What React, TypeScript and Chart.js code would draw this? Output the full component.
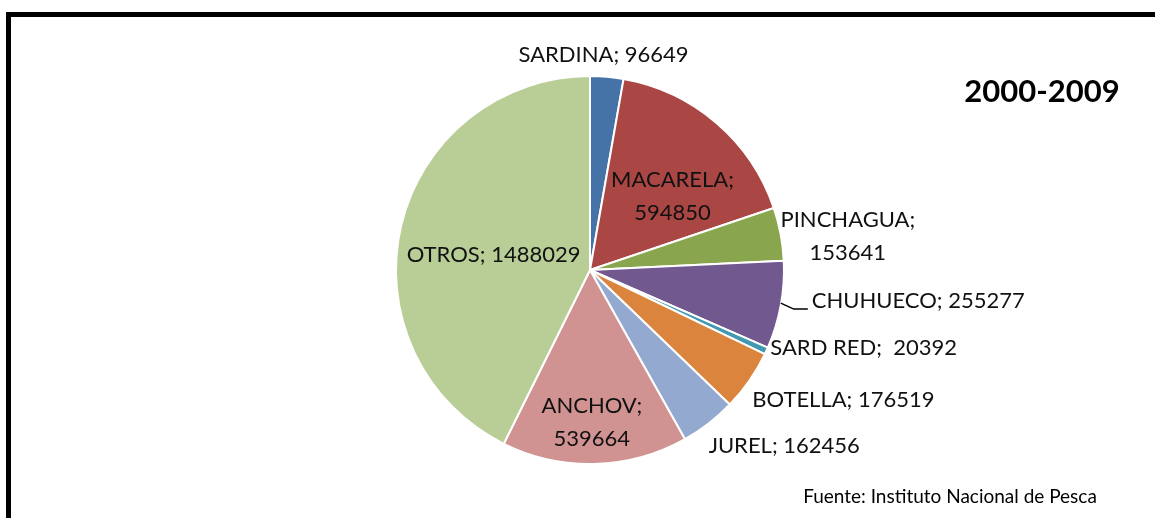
import React, { useEffect, useRef } from "react";
import { Chart, registerables } from "chart.js";

Chart.register(...registerables);

const categories = ["SARDINA", "MACARELA", "PINCHAGUA", "CHUHUECO", "SARD RED", "BOTELLA", "JUREL", "ANCHOV", "OTROS"];
const values = [96649, 594850, 153641, 255277, 20392, 176519, 162456, 539664, 1488029];
const colors = ["#4572A7", "#AA4643", "#89A54E", "#71588F", "#4198AF", "#DB843D", "#93A9CF", "#D19392", "#B9CD96"];
const titleText = "2000-2009";
const sourceText = "Fuente: Instituto Nacional de Pesca";

// label placement: radial factor along mid-angle, pixel nudges, alignment, two-line flag, leader
const labelLayout = [
  { f: 1.1, dx: -5, dy: -3, align: "center", twoLine: false, leader: false },
  { f: 0.55, dx: 13, dy: 7, align: "center", twoLine: true, leader: false },
  { f: 1.3, dx: 10, dy: 13, align: "center", twoLine: true, leader: false },
  { f: 1.0, dx: 31, dy: -4, align: "left", twoLine: false, leader: true },
  { f: 1.0, dx: 4, dy: -3, align: "left", twoLine: false, leader: false },
  { f: 1.0, dx: 3, dy: 19, align: "left", twoLine: false, leader: false },
  { f: 1.0, dx: 0, dy: 22, align: "left", twoLine: false, leader: false },
  { f: 0.78, dx: -2, dy: 1, align: "center", twoLine: true, leader: false },
  { f: 0.5, dx: -2, dy: 7, align: "center", twoLine: false, leader: false },
];

const FONT = "Lato, 'Open Sans', sans-serif";

const decorPlugin = {
  id: "decor",
  beforeDraw(chart: any) {
    const ctx = chart.ctx;
    ctx.save();
    ctx.fillStyle = "#ffffff";
    ctx.fillRect(0, 0, chart.width, chart.height);
    ctx.fillStyle = "#000000";
    ctx.fillRect(6, 12, chart.width, 5);
    ctx.fillRect(6, 12, 5, chart.height);
    ctx.restore();
  },
  afterDatasetsDraw(chart: any) {
    const ctx = chart.ctx;
    const meta = chart.getDatasetMeta(0);
    ctx.save();
    ctx.fillStyle = "#111111";
    ctx.font = `22px ${FONT}`;
    ctx.textBaseline = "middle";
    meta.data.forEach((arc: any, i: number) => {
      const lay = labelLayout[i];
      const mid = (arc.startAngle + arc.endAngle) / 2;
      const r = arc.outerRadius;
      const ex = arc.x + Math.cos(mid) * r;
      const ey = arc.y + Math.sin(mid) * r;
      const x = arc.x + Math.cos(mid) * r * lay.f + lay.dx;
      const y = arc.y + Math.sin(mid) * r * lay.f + lay.dy;
      const name = categories[i];
      const val = String(values[i]);
      ctx.textAlign = lay.align as CanvasTextAlign;
      if (lay.twoLine) {
        ctx.fillText(name + ";", x, y - 16.5);
        ctx.fillText(val, x, y + 16.5);
      } else {
        const sep = name === "SARD RED" ? ";  " : "; ";
        ctx.fillText(name + sep + val, x, y);
      }
      if (lay.leader) {
        ctx.strokeStyle = "#000000";
        ctx.lineWidth = 1.5;
        ctx.beginPath();
        ctx.moveTo(ex, ey - 2);
        ctx.lineTo(ex + 13, y + 8);
        ctx.lineTo(x - 4, y + 8);
        ctx.stroke();
      }
    });
    // title
    ctx.textAlign = "center";
    ctx.font = `bold 31px ${FONT}`;
    ctx.fillStyle = "#000000";
    ctx.fillText(titleText, 1042, 92);
    // source
    ctx.font = `19px ${FONT}`;
    ctx.fillText(sourceText, 950, 497);
    ctx.restore();
  },
};

export default function App() {
  const canvasRef = useRef<HTMLCanvasElement | null>(null);

  useEffect(() => {
    if (!canvasRef.current) return;
    const chart = new Chart(canvasRef.current, {
      type: "pie",
      data: {
        labels: categories,
        datasets: [
          {
            data: values,
            backgroundColor: colors,
            borderColor: "#ffffff",
            borderWidth: 2,
          },
        ],
      },
      options: {
        responsive: false,
        animation: false,
        layout: { padding: { left: 395, right: 370, top: 75, bottom: 53 } },
        plugins: {
          legend: { display: false },
          tooltip: { enabled: false },
          title: { display: false },
        },
      },
      plugins: [decorPlugin],
    });
    return () => chart.destroy();
  }, []);

  return (
    <div style={{ position: "absolute", left: 0, top: 0, width: 1155, height: 518, background: "#fff" }}>
      <canvas ref={canvasRef} width={1155} height={518} style={{ display: "block" }} />
    </div>
  );
}
